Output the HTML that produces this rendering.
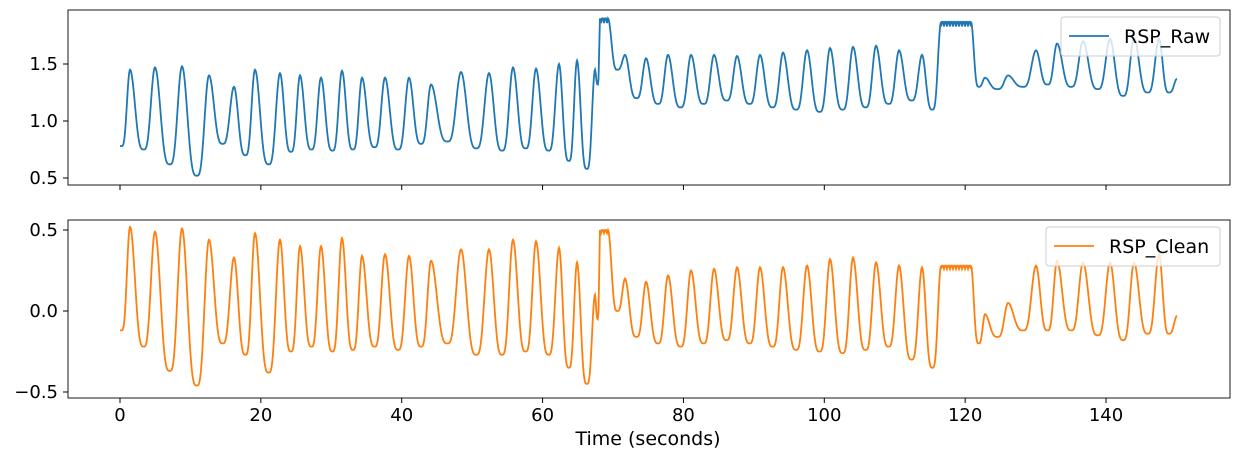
<!DOCTYPE html>
<html><head><meta charset="utf-8"><style>
body{margin:0;background:#fff;font-family:"Liberation Sans","DejaVu Sans",sans-serif}
svg text{font-family:"DejaVu Sans","Liberation Sans",sans-serif;fill:#000}
</style></head><body>
<svg id="s" width="1239" height="458" xmlns="http://www.w3.org/2000/svg">
<rect x="0" y="0" width="1239" height="458" fill="#fff"/>
<path id="p1" fill="none" stroke="#1f77b4" stroke-width="1.8"/>
<path id="p2" fill="none" stroke="#ff7f0e" stroke-width="1.8"/>
<rect x="68" y="10" width="1162" height="175" fill="none" stroke="#000" stroke-width="0.9"/>
<rect x="68" y="220" width="1162" height="178" fill="none" stroke="#000" stroke-width="0.9"/>
<g id="ax"></g>
<g>
<rect x="1061" y="17" width="159" height="39" rx="3" fill="#fff" fill-opacity="0.8" stroke="#ccc"/>
<line x1="1069" y1="36" x2="1109" y2="36" stroke="#1f77b4" stroke-width="1.8"/>
<text x="1124" y="43" style="font-size:19px">RSP_Raw</text>
<rect x="1046" y="227" width="174" height="39" rx="3" fill="#fff" fill-opacity="0.8" stroke="#ccc"/>
<line x1="1054" y1="246" x2="1094" y2="246" stroke="#ff7f0e" stroke-width="1.8"/>
<text x="1109" y="253" style="font-size:19px">RSP_Clean</text>
</g>
<text x="648" y="445" text-anchor="middle" style="font-size:19px">Time (seconds)</text>
</svg>
<script>
var ax=document.getElementById('ax'),h='';
for(var t=0;t<=140;t+=20){var x=120+t*7.043;
h+='<line x1="'+x+'" y1="185" x2="'+x+'" y2="190" stroke="#000"/>';
h+='<line x1="'+x+'" y1="398" x2="'+x+'" y2="403" stroke="#000"/>';
h+='<text x="'+x+'" y="421" text-anchor="middle" style="font-size:18px">'+t+'</text>';}
[[0.5,178],[1.0,121],[1.5,64]].forEach(function(a){h+='<line x1="63" y1="'+a[1]+'" x2="68" y2="'+a[1]+'" stroke="#000"/><text x="58" y="'+(a[1]+6)+'" text-anchor="end" style="font-size:18px">'+a[0].toFixed(1)+'</text>';});
[[0.5,230],[0,311],[-0.5,392]].forEach(function(a){h+='<line x1="63" y1="'+a[1]+'" x2="68" y2="'+a[1]+'" stroke="#000"/><text x="58" y="'+(a[1]+6)+'" text-anchor="end" style="font-size:18px">'+(a[0]<0?'\u22120.5':a[0].toFixed(1))+'</text>';});
ax.innerHTML=h;
var P=[[120,0.78,-0.12,0.78,-0.12,0],
[130,1.45,0.52,0.75,-0.22,0],[155,1.47,0.49,0.62,-0.37,0],[182,1.48,0.51,0.52,-0.46,0],
[209,1.40,0.44,0.80,-0.20,0],[234,1.30,0.33,0.70,-0.27,0],[255,1.45,0.48,0.62,-0.38,0],
[280,1.42,0.44,0.73,-0.25,0],[300,1.40,0.40,0.75,-0.22,0],[321,1.38,0.40,0.74,-0.25,0],
[342,1.44,0.45,0.75,-0.24,0],[362,1.38,0.34,0.77,-0.22,0],[385,1.38,0.35,0.75,-0.24,0],
[409,1.38,0.34,0.80,-0.22,0],[431,1.32,0.31,0.82,-0.20,0],[461,1.43,0.38,0.76,-0.27,0],
[489,1.42,0.38,0.74,-0.27,0],[513,1.47,0.44,0.76,-0.25,0],[536,1.46,0.43,0.74,-0.27,0],
[559,1.50,0.39,0.65,-0.35,0],[577,1.53,0.30,0.58,-0.45,0],[595,1.45,0.10,1.32,-0.05,0],
[604,1.9,0.50,1.45,0.0,8],[625,1.58,0.20,1.20,-0.16,0],[646,1.55,0.18,1.15,-0.20,0],
[668,1.58,0.22,1.12,-0.22,0],[691,1.58,0.25,1.15,-0.20,0],[714,1.58,0.26,1.18,-0.18,0],
[737,1.57,0.27,1.15,-0.20,0],[760,1.58,0.27,1.12,-0.22,0],[783,1.60,0.27,1.10,-0.24,0],
[807,1.62,0.28,1.08,-0.25,0],[830,1.64,0.32,1.10,-0.26,0],[853,1.65,0.33,1.12,-0.24,0],
[876,1.66,0.30,1.15,-0.22,0],[899,1.62,0.28,1.18,-0.30,0],[922,1.58,0.27,1.10,-0.35,0],
[956,1.87,0.28,1.30,-0.20,30],[985,1.38,-0.02,1.28,-0.16,0],[1008,1.40,0.05,1.30,-0.12,0],
[1036,1.62,0.28,1.32,-0.12,0],[1057,1.68,0.31,1.30,-0.12,0],[1083,1.70,0.30,1.28,-0.15,0],
[1110,1.72,0.30,1.22,-0.18,0],[1134,1.73,0.30,1.25,-0.14,0],[1159,1.72,0.35,1.25,-0.14,0],
[1177,1.37,-0.03,1.37,-0.03,0]];
function yr(v){return 121-(v-1)*114} function yc(v){return 311-v*162}
var a='',b='';
function add(x,r,c){a+=(a?'L':'M')+x.toFixed(1)+','+yr(r).toFixed(1);b+=(b?'L':'M')+x.toFixed(1)+','+yc(c).toFixed(1);}
function sh(s){return Math.pow(s,1.7);}
for(var i=0;i<P.length-1;i++){
 var p=P[i],q=P[i+1],w=p[5]/2,w2=q[5]/2;
 var x0=p[0]+w,x1=q[0]-w2;
 if(w>0){for(var k=-w;k<=w;k+=1){var j=(k%3==0)?0.04:0;add(p[0]+k,p[1]-j,p[2]-j/2);}}
 var fr=(i==0)?0.15:0.55;
 var xt=x0+fr*(x1-x0);
 for(var x=x0;x<=xt;x+=0.7){var f=(x-x0)/(xt-x0),u=sh((1+Math.cos(Math.PI*f))/2);add(x,p[3]+(p[1]-p[3])*u,p[4]+(p[2]-p[4])*u);}
 for(var x=xt;x<x1;x+=0.7){var f=(x-xt)/(x1-xt),u=sh((1-Math.cos(Math.PI*f))/2);add(x,p[3]+(q[1]-p[3])*u,p[4]+(q[2]-p[4])*u);}
}
add(1177,1.37,-0.03);
document.getElementById('p1').setAttribute('d',a);
document.getElementById('p2').setAttribute('d',b);
</script>
</body></html>
